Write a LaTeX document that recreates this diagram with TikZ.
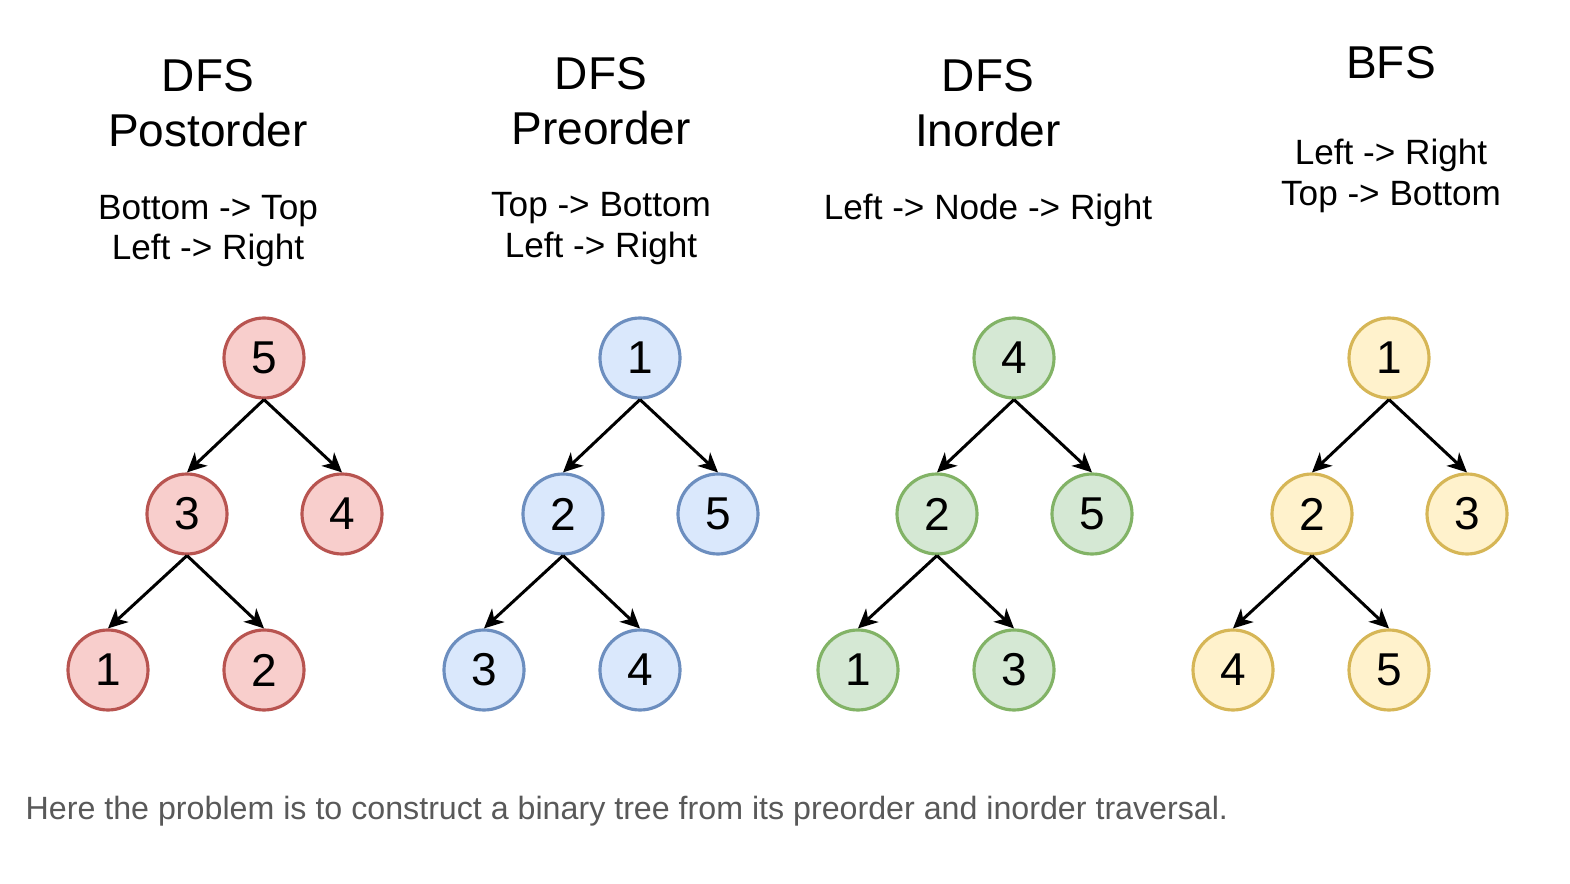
\documentclass[tikz,border=0pt]{standalone}
\usepackage{fontspec}
\setmainfont{Liberation Sans}
\usetikzlibrary{arrows.meta,positioning}

\definecolor{redline}{HTML}{B85450}
\definecolor{redfill}{HTML}{F8CECC}
\definecolor{blueline}{HTML}{6C8EBF}
\definecolor{bluefill}{HTML}{DAE8FC}
\definecolor{greenline}{HTML}{82B366}
\definecolor{greenfill}{HTML}{D5E8D4}
\definecolor{yellowline}{HTML}{D6B656}
\definecolor{yellowfill}{HTML}{FFF2CC}
\definecolor{notegray}{HTML}{595959}

\begin{document}
\begin{tikzpicture}[
  tnode/.style={circle,draw,line width=0.9pt,minimum size=0.8cm,inner sep=0pt,font=\fontsize{13.1}{15}\selectfont},
  tedge/.style={-{Stealth[length=5.5pt,width=5.2pt,inset=1.6pt]},line width=0.85pt},
  title/.style={anchor=base,font=\fontsize{13.1}{15}\selectfont},
  sub/.style={anchor=base,font=\fontsize{10}{12}\selectfont}]
\useasboundingbox (0,0) rectangle (15.70,-8.84);

\node[title] (post1) at (2.08,-0.92) {DFS};
\node[title] (post2) at (2.08,-1.47) {Postorder};
\node[sub] (postA) at (2.08,-2.20) {Bottom -> Top};
\node[sub] (postB) at (2.08,-2.60) {Left -> Right};

\node[title] (pre1) at (6.01,-0.90) {DFS};
\node[title] (pre2) at (6.01,-1.45) {Preorder};
\node[sub] (preA) at (6.01,-2.17) {Top -> Bottom};
\node[sub] (preB) at (6.01,-2.58) {Left -> Right};

\node[title] (in1) at (9.88,-0.92) {DFS};
\node[title] (in2) at (9.88,-1.47) {Inorder};
\node[sub] (inA) at (9.88,-2.20) {Left -> Node -> Right};

\node[title] (bfs1) at (13.91,-0.79) {BFS};
\node[sub] (bfsA) at (13.91,-1.65) {Left -> Right};
\node[sub] (bfsB) at (13.91,-2.06) {Top -> Bottom};

\foreach \rx/\ln/\fl/\a/\b/\d/\e/\f [count=\n] in {2.64/redline/redfill/5/3/4/1/2,6.40/blueline/bluefill/1/2/5/3/4,10.14/greenline/greenfill/4/2/5/1/3,13.89/yellowline/yellowfill/1/2/3/4/5}{
  \node[tnode,draw=\ln,fill=\fl] (root\n) at (\rx,-3.58) {\a};
  \node[tnode,draw=\ln,fill=\fl] (left\n) at (\rx-0.77,-5.14) {\b};
  \node[tnode,draw=\ln,fill=\fl] (right\n) at (\rx+0.78,-5.14) {\d};
  \node[tnode,draw=\ln,fill=\fl] (leftl\n) at (\rx-1.56,-6.70) {\e};
  \node[tnode,draw=\ln,fill=\fl] (leftr\n) at (\rx,-6.70) {\f};
  \draw[tedge] (root\n.south) -- (left\n.north);
  \draw[tedge] (root\n.south) -- (right\n.north);
  \draw[tedge] (left\n.south) -- (leftl\n.north);
  \draw[tedge] (left\n.south) -- (leftr\n.north);
}

\node[anchor=base west,text=notegray,inner sep=0pt,font=\fontsize{9.16}{11}\selectfont] (note) at (0.25,-8.19) {Here the problem is to construct a binary tree from its preorder and inorder traversal.};
\end{tikzpicture}
\end{document}
